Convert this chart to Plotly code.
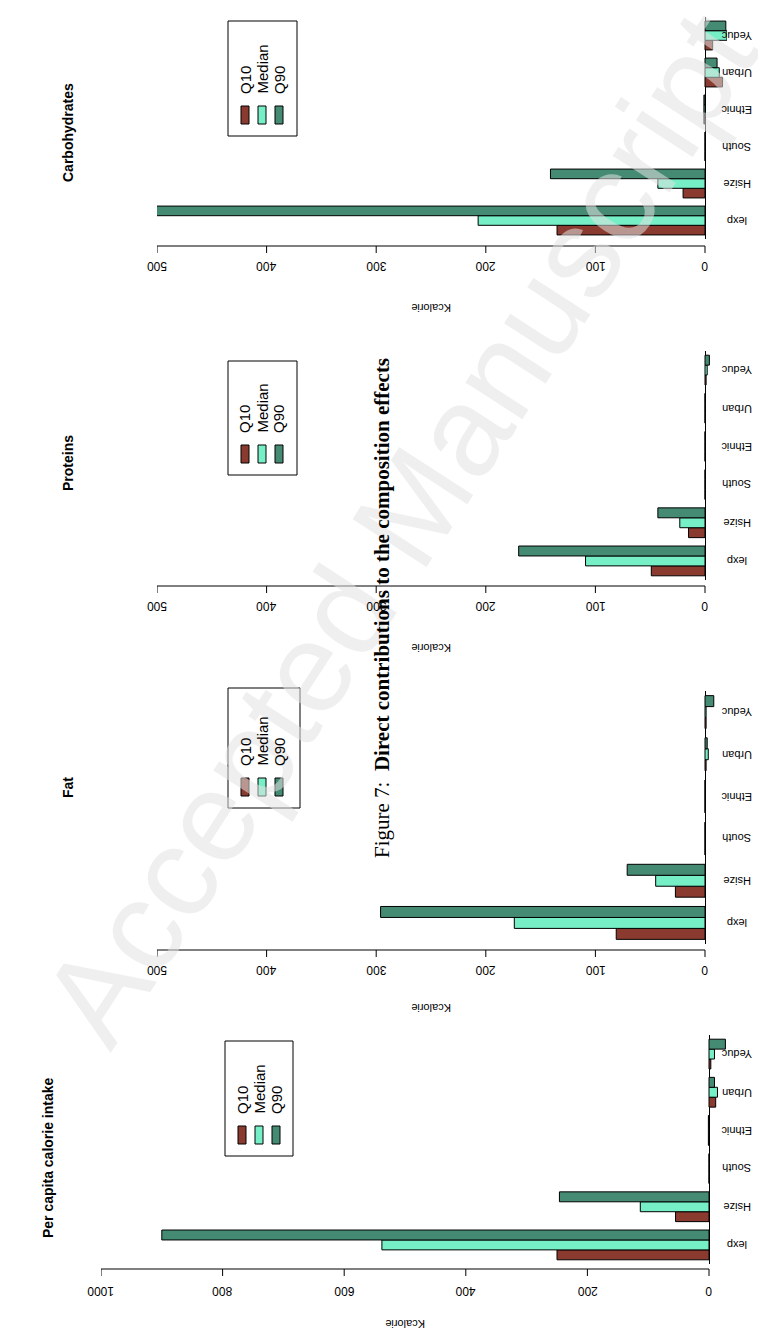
import plotly.graph_objects as go

W, H = 766, 1331

categories = ["lexp", "Hsize", "South", "Ethnic", "Urban", "Yeduc"]
series_names = ["Q10", "Median", "Q90"]
colors = ["#8B3A2F", "#76EEC6", "#458B74"]

calorie_q10 = [250, 55, 0, 1, -11, -3]
calorie_med = [538, 113, 0, 1, -14, -9]
calorie_q90 = [900, 246, 0, 1, -9, -27]

fat_q10 = [81, 27, 0, 0, -1, -1]
fat_med = [174, 45, 0, 0, -3, -1]
fat_q90 = [296, 71, 0, 0, -2, -8]

protein_q10 = [49, 15, 0, 0, 0, -1]
protein_med = [109, 23, 0, 0, 0, -2]
protein_q90 = [170, 43, 0, 0, 0, -4]

carb_q10 = [135, 20, 0, 1, -16, -7]
carb_med = [207, 43, 0, 1, -13, -20]
carb_q90 = [528, 141, 0, 1, -11, -19]

panels = [
    dict(title="Carbohydrates", vals=[carb_q10, carb_med, carb_q90], vmax=500, ticks=[0, 100, 200, 300, 400, 500],
         x0=697, xmax=149, ytop=9, ybot=231, axis=238, tl=258, kc=300, tx=60, ty=125, leg=(220, 13, 289, 128)),
    dict(title="Proteins", vals=[protein_q10, protein_med, protein_q90], vmax=500, ticks=[0, 100, 200, 300, 400, 500],
         x0=697, xmax=149, ytop=343, ybot=572, axis=578, tl=598, kc=640, tx=60, ty=455, leg=(220, 353, 289, 467)),
    dict(title="Fat", vals=[fat_q10, fat_med, fat_q90], vmax=500, ticks=[0, 100, 200, 300, 400, 500],
         x0=697, xmax=149, ytop=683, ybot=936, axis=942, tl=962, kc=1000, tx=60, ty=780, leg=(220, 680, 292, 800)),
    dict(title="Per capita calorie intake", vals=[calorie_q10, calorie_med, calorie_q90], vmax=1000,
         ticks=[0, 200, 400, 600, 800, 1000],
         x0=701, xmax=93, ytop=1027, ybot=1256, axis=1261, tl=1283, kc=1316, tx=40, ty=1150, leg=(217, 1033, 285, 1148)),
]

fig = go.Figure()
shapes, annotations = [], []
font = "Liberation Sans, Arial, sans-serif"
x_right = 719

# faint watermark first so it sits under the other texts
annotations.append(dict(x=390 / W, y=1 - 520 / H, xref="paper", yref="paper", text="Accepted Manuscript",
                        showarrow=False, textangle=-57, xanchor="center", yanchor="middle",
                        font=dict(family=font, size=128, color="rgba(225,225,225,0.55)")))

for i, p in enumerate(panels):
    n = "" if i == 0 else str(i + 1)
    scale = (p["x0"] - p["xmax"]) / p["vmax"]
    vmin = -(x_right - p["x0"]) / scale
    for name, vals, c in zip(series_names, p["vals"], colors):
        fig.add_trace(go.Bar(y=categories, x=vals, orientation="h", name=name,
                             marker=dict(color=c, line=dict(color="black", width=1)),
                             xaxis="x" + n, yaxis="y" + n, showlegend=False))
    fig.layout["xaxis" + n] = dict(domain=[p["xmax"] / W, x_right / W], range=[p["vmax"], vmin],
                                   anchor="y" + n, ticks="", showticklabels=False,
                                   showgrid=False, zeroline=True, zerolinecolor="black", zerolinewidth=1,
                                   showline=False)
    fig.layout["yaxis" + n] = dict(domain=[1 - p["ybot"] / H, 1 - p["ytop"] / H], anchor="x" + n,
                                   showticklabels=False, showgrid=False, showline=False,
                                   categoryorder="array", categoryarray=categories, range=[-0.5, 5.5])
    for cat in categories:
        annotations.append(dict(x=729 / W, y=cat, xref="paper", yref="y" + n, text=cat, showarrow=False,
                                textangle=180, xanchor="center", yanchor="middle",
                                font=dict(family=font, size=11, color="black")))
    yax = 1 - p["axis"] / H
    shapes.append(dict(type="line", xref="x" + n, yref="paper", x0=0, x1=p["vmax"], y0=yax, y1=yax,
                       line=dict(color="black", width=1)))
    for t in p["ticks"]:
        shapes.append(dict(type="line", xref="x" + n, yref="paper", x0=t, x1=t, y0=yax, y1=yax - 7 / H,
                           line=dict(color="black", width=1)))
        annotations.append(dict(x=t, y=1 - p["tl"] / H, xref="x" + n, yref="paper", text=str(t),
                                showarrow=False, textangle=180, xanchor="center", yanchor="middle",
                                font=dict(family=font, size=12, color="black")))
    annotations.append(dict(x=(p["x0"] + p["xmax"]) / 2 / W, y=1 - p["kc"] / H, xref="paper", yref="paper",
                            text="Kcalorie", showarrow=False, textangle=180, xanchor="center", yanchor="middle",
                            font=dict(family=font, size=11, color="black")))
    annotations.append(dict(x=p["tx"] / W, y=1 - p["ty"] / H, xref="paper", yref="paper",
                            text="<b>" + p["title"] + "</b>", showarrow=False, textangle=-90,
                            xanchor="center", yanchor="middle",
                            font=dict(family=font, size=14, color="black")))
    lx0, ly0, lx1, ly1 = p["leg"]
    shapes.append(dict(type="rect", xref="paper", yref="paper", x0=lx0 / W, x1=lx1 / W,
                       y0=1 - ly1 / H, y1=1 - ly0 / H, line=dict(color="black", width=1)))
    for k, (name, c) in enumerate(zip(series_names, colors)):
        cx = lx0 + 17 + k * 17
        shapes.append(dict(type="rect", xref="paper", yref="paper", x0=(cx - 4) / W, x1=(cx + 4) / W,
                           y0=1 - (ly1 - 12) / H, y1=1 - (ly1 - 30) / H, fillcolor=c,
                           line=dict(color="black", width=1)))
        annotations.append(dict(x=cx / W, y=1 - (ly1 - 40) / H, xref="paper", yref="paper", text=name,
                                showarrow=False, textangle=-90, xanchor="center", yanchor="bottom",
                                font=dict(family=font, size=15, color="black")))

annotations.append(dict(x=374 / W, y=1 - 600 / H, xref="paper", yref="paper",
                        text="Figure 7:  <b>Direct contributions to the composition effects</b>",
                        showarrow=False, textangle=-90, xanchor="center", yanchor="middle",
                        font=dict(family="Liberation Serif, serif", size=21, color="black")))

fig.update_layout(width=W, height=H, margin=dict(l=0, r=0, t=0, b=0), barmode="group", bargap=0.22,
                  bargroupgap=0, plot_bgcolor="rgba(0,0,0,0)", paper_bgcolor="white",
                  shapes=shapes, annotations=annotations)
fig.write_html("out.html")
